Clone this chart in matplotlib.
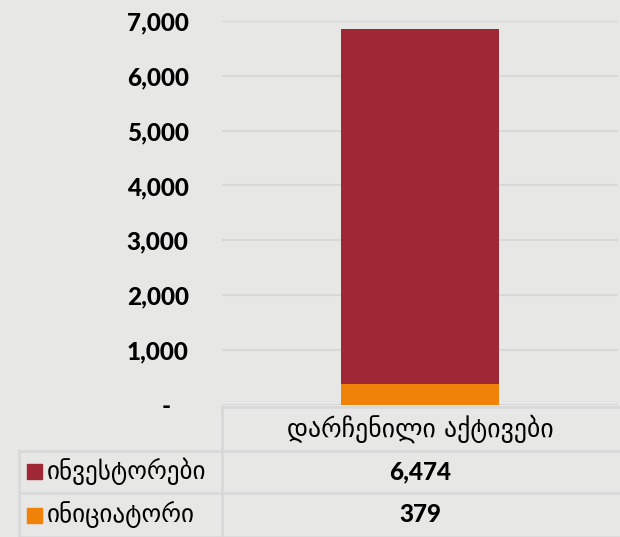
import matplotlib.pyplot as plt
from matplotlib.lines import Line2D

# data
category = "დარჩენილი აქტივები"
series_names = ["ინვესტორები", "ინიციატორი"]
investors = [6474]
initiator = [379]
y_ticks = [0, 1000, 2000, 3000, 4000, 5000, 6000, 7000]
y_tick_labels = ["-   ", "1,000", "2,000", "3,000", "4,000", "5,000", "6,000", "7,000"]

bg = "#E7E7E6"
grid_col = "#D8D8D8"
red = "#A02836"
orange = "#F0820A"

W, H = 620, 537
fig = plt.figure(figsize=(W / 100, H / 100), dpi=100, facecolor=bg)

# plot area in pixel terms
left, right, top, bottom = 222, 618, 20.7, 405
ax = fig.add_axes([left / W, 1 - bottom / H, (right - left) / W, (bottom - top) / H])
ax.set_facecolor(bg)

ax.bar([0], initiator, width=0.4, color=orange, zorder=3)
ax.bar([0], investors, width=0.4, bottom=initiator, color=red, zorder=3)

ax.set_xlim(-0.5, 0.5)
ax.set_ylim(0, 7000)
ax.set_yticks(y_ticks)
ax.set_yticklabels(y_tick_labels, fontfamily="Lato", fontweight=900, fontsize=17.5)
ax.tick_params(axis="y", length=0, pad=24)
ax.set_xticks([])
ax.yaxis.grid(True, color=grid_col, linewidth=1.5)
ax.set_axisbelow(True)
for s in ax.spines.values():
    s.set_visible(False)

# data table drawn in pixel coordinates
tab = fig.add_axes([0, 0, 1, 1])
tab.set_xlim(0, W)
tab.set_ylim(H, 0)
tab.axis("off")
tab.patch.set_alpha(0)

lw = 1.8
lines = [
    ((222, 620), (407, 407)),
    ((19, 620), (451, 451)),
    ((19, 620), (493, 493)),
    ((19, 620), (536.5, 536.5)),
    ((222, 222), (407, 537)),
    ((19, 19), (451, 537)),
]
for xs, ys in lines:
    tab.add_line(Line2D(xs, ys, color=grid_col, linewidth=lw))

tab.text(420, 429, category, ha="center", va="center", fontsize=18.5,
         fontfamily="DejaVu Sans", color="black")

values = [investors[0], initiator[0]]
colors = [red, orange]
row_y = [471.5, 515]
for name, val, c, yy in zip(series_names, values, colors, row_y):
    tab.add_patch(plt.Rectangle((27, yy - 7.5), 15, 15, color=c))
    tab.text(47, yy, name, ha="left", va="center", fontsize=18,
             fontfamily="DejaVu Sans", color="black")
    tab.text(420, yy, f"{val:,}", ha="center", va="center", fontsize=17.5,
             fontfamily="Lato", fontweight=900, color="black")

fig.savefig("out.png", dpi=100, facecolor=bg)
